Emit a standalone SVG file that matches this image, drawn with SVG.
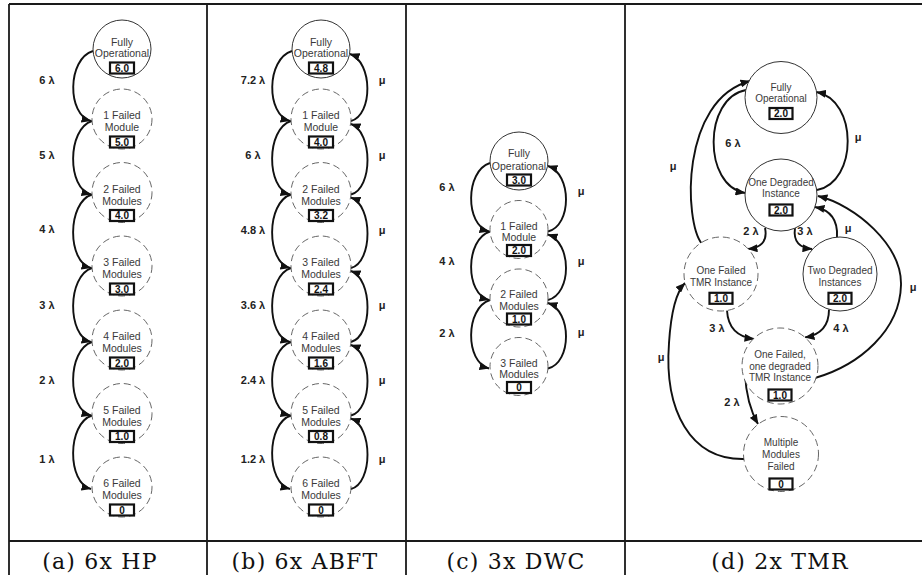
<svg xmlns="http://www.w3.org/2000/svg" width="922" height="575" viewBox="0 0 922 575">
<defs>
<marker id="ah" markerUnits="userSpaceOnUse" markerWidth="10" markerHeight="8" refX="9.5" refY="4" orient="auto">
<path d="M0,0 L10,4 L0,8 z" fill="#111"/>
</marker>
<style>
.frame{stroke:#1a1a1a;stroke-width:1.8;fill:none}
.sol{fill:#fff;stroke:#333;stroke-width:1}
.dash{fill:#fff;stroke:#555;stroke-width:0.9;stroke-dasharray:7 4}
.nt{font-family:"Liberation Sans",Arial,sans-serif;font-size:10.5px;fill:#3a3a3a;text-anchor:middle}
.nd{font-family:"Liberation Sans",Arial,sans-serif;font-size:10px;fill:#3a3a3a;text-anchor:middle}
.box{fill:#fff;stroke:#111;stroke-width:2.2}
.bt{font-family:"Liberation Sans",Arial,sans-serif;font-size:10px;font-weight:bold;fill:#111;text-anchor:middle}
.el{font-family:"Liberation Sans",Arial,sans-serif;font-size:11px;font-weight:bold;fill:#222;text-anchor:middle}
.cap{font-family:"DejaVu Serif","Liberation Serif",serif;font-size:22px;fill:#111;text-anchor:middle;letter-spacing:1.2px}
.ed{fill:none;stroke:#111;stroke-width:1.9;marker-end:url(#ah)}
</style>
</defs>
<rect width="922" height="575" fill="#fff"/>
<g id="frame">
<path class="frame" d="M9,4 H922 M9,4 V575 M207,4 V575 M406,4 V575 M625,4 V575 M9,541 H922"/>
</g>

<g id="connectors">
<path class="ed" d="M93,51 C67,59 67,115 91,121"/>
<path class="ed" d="M92,121 C67,129 67,188.5 91,194.5"/>
<path class="ed" d="M92,194.5 C67,202.5 67,262 91,268"/>
<path class="ed" d="M92,268 C67,276 67,336 91,342"/>
<path class="ed" d="M92,342 C67,350 67,409.5 91,415.5"/>
<path class="ed" d="M92,415.5 C67,423.5 67,483 91,489"/>
<path class="ed" d="M292,51 C266,59 266,115 290,121"/>
<path class="ed" d="M291,121 C266,129 266,188.5 290,194.5"/>
<path class="ed" d="M291,194.5 C266,202.5 266,262 290,268"/>
<path class="ed" d="M291,268 C266,276 266,336 290,342"/>
<path class="ed" d="M291,342 C266,350 266,409.5 290,415.5"/>
<path class="ed" d="M291,415.5 C266,423.5 266,483 290,489"/>
<path class="ed" d="M351,121 C373,115 373,62 350,54"/>
<path class="ed" d="M351,194.5 C373,188.5 373,132 351,124"/>
<path class="ed" d="M351,268 C373,262 373,205.5 351,197.5"/>
<path class="ed" d="M351,342 C373,336 373,279 351,271"/>
<path class="ed" d="M351,415.5 C373,409.5 373,353 351,345"/>
<path class="ed" d="M351,489 C373,483 373,426.5 351,418.5"/>
<path class="ed" d="M490,163 C465,171 465,225.5 489,231.5"/>
<path class="ed" d="M490,231.5 C465,239.5 465,294 489,300"/>
<path class="ed" d="M490,300 C465,308 465,362.5 489,368.5"/>
<path class="ed" d="M548,231.5 C572,225.5 572,174 548,166"/>
<path class="ed" d="M548,300 C572,294 572,242.5 548,234.5"/>
<path class="ed" d="M548,368.5 C572,362.5 572,311 548,303"/>
<path class="ed" d="M746,90 C703,98 703,186 745,193"/>
<path class="ed" d="M817,190 C858,182 858,100 816.5,92"/>
<path class="ed" d="M702,244 C684,222 680,100 750,81"/>
<path class="ed" d="M765,228 C768,242 760,248 748,249"/>
<path class="ed" d="M795,228 C793,242 800,248 812,249"/>
<path class="ed" d="M837,237 C838,220 830,210 815,207"/>
<path class="ed" d="M727,310.5 C728,328 738,337 754,339"/>
<path class="ed" d="M829,309.5 C829,326 820,335 805,337.5"/>
<path class="ed" d="M815,378 C860,365 900,330 901,285 C902,245 855,205 818,196"/>
<path class="ed" d="M745,374 C746,395 750,410 758,424"/>
<path class="ed" d="M744,459 C690,460 664,410 669,343 C671,312 676,292 685,283"/>
</g>

<g id="edge-labels">
<text class="el" x="47" y="84">6 λ</text>
<text class="el" x="47" y="159">5 λ</text>
<text class="el" x="47" y="233">4 λ</text>
<text class="el" x="47" y="309">3 λ</text>
<text class="el" x="47" y="384">2 λ</text>
<text class="el" x="47" y="463">1 λ</text>
<text class="el" x="253" y="84">7.2 λ</text>
<text class="el" x="253" y="159">6 λ</text>
<text class="el" x="253" y="234">4.8 λ</text>
<text class="el" x="253" y="309">3.6 λ</text>
<text class="el" x="253" y="384">2.4 λ</text>
<text class="el" x="253" y="463">1.2 λ</text>
<text class="el" x="382" y="84">μ</text>
<text class="el" x="382" y="159">μ</text>
<text class="el" x="382" y="234">μ</text>
<text class="el" x="382" y="309">μ</text>
<text class="el" x="382" y="384">μ</text>
<text class="el" x="382" y="463">μ</text>
<text class="el" x="447" y="191">6 λ</text>
<text class="el" x="447" y="265">4 λ</text>
<text class="el" x="447" y="337">2 λ</text>
<text class="el" x="581" y="195">μ</text>
<text class="el" x="581" y="265">μ</text>
<text class="el" x="581" y="336">μ</text>
<text class="el" x="733" y="147">6 λ</text>
<text class="el" x="858" y="141">μ</text>
<text class="el" x="673" y="170">μ</text>
<text class="el" x="751" y="235">2 λ</text>
<text class="el" x="805" y="235">3 λ</text>
<text class="el" x="848" y="232">μ</text>
<text class="el" x="717" y="332">3 λ</text>
<text class="el" x="841" y="332">4 λ</text>
<text class="el" x="913" y="291">μ</text>
<text class="el" x="732" y="406">2 λ</text>
<text class="el" x="661" y="361">μ</text>
</g>

<g id="a-fully"><circle class="sol" cx="122" cy="49" r="29"/><text class="nt" x="122" y="45.5">Fully</text><text class="nt" x="122" y="56.5">Operational</text><rect class="box" x="110" y="62.5" width="24" height="11"/><text class="bt" x="122" y="71.5">6.0</text></g>
<g id="a-f1"><circle class="dash" cx="122" cy="119" r="30"/><text class="nt" x="122" y="119">1 Failed</text><text class="nt" x="122" y="131">Module</text><rect class="box" x="110" y="136.5" width="24" height="11"/><text class="bt" x="122" y="145.5">5.0</text></g>
<g id="a-f2"><circle class="dash" cx="122" cy="192.5" r="30"/><text class="nt" x="122" y="192.5">2 Failed</text><text class="nt" x="122" y="204.5">Modules</text><rect class="box" x="110" y="210" width="24" height="11"/><text class="bt" x="122" y="219">4.0</text></g>
<g id="a-f3"><circle class="dash" cx="122" cy="266" r="30"/><text class="nt" x="122" y="266">3 Failed</text><text class="nt" x="122" y="278">Modules</text><rect class="box" x="110" y="283.5" width="24" height="11"/><text class="bt" x="122" y="292.5">3.0</text></g>
<g id="a-f4"><circle class="dash" cx="122" cy="340" r="30"/><text class="nt" x="122" y="340">4 Failed</text><text class="nt" x="122" y="352">Modules</text><rect class="box" x="110" y="357.5" width="24" height="11"/><text class="bt" x="122" y="366.5">2.0</text></g>
<g id="a-f5"><circle class="dash" cx="122" cy="413.5" r="30"/><text class="nt" x="122" y="413.5">5 Failed</text><text class="nt" x="122" y="425.5">Modules</text><rect class="box" x="110" y="431" width="24" height="11"/><text class="bt" x="122" y="440">1.0</text></g>
<g id="a-f6"><circle class="dash" cx="122" cy="487" r="30"/><text class="nt" x="122" y="487">6 Failed</text><text class="nt" x="122" y="499">Modules</text><rect class="box" x="110" y="504.5" width="24" height="11"/><text class="bt" x="122" y="513.5">0</text></g>

<g id="b-fully"><circle class="sol" cx="321" cy="49" r="29"/><text class="nt" x="321" y="45.5">Fully</text><text class="nt" x="321" y="56.5">Operational</text><rect class="box" x="309" y="62.5" width="24" height="11"/><text class="bt" x="321" y="71.5">4.8</text></g>
<g id="b-f1"><circle class="dash" cx="321" cy="119" r="30"/><text class="nt" x="321" y="119">1 Failed</text><text class="nt" x="321" y="131">Module</text><rect class="box" x="309" y="136.5" width="24" height="11"/><text class="bt" x="321" y="145.5">4.0</text></g>
<g id="b-f2"><circle class="dash" cx="321" cy="192.5" r="30"/><text class="nt" x="321" y="192.5">2 Failed</text><text class="nt" x="321" y="204.5">Modules</text><rect class="box" x="309" y="210" width="24" height="11"/><text class="bt" x="321" y="219">3.2</text></g>
<g id="b-f3"><circle class="dash" cx="321" cy="266" r="30"/><text class="nt" x="321" y="266">3 Failed</text><text class="nt" x="321" y="278">Modules</text><rect class="box" x="309" y="283.5" width="24" height="11"/><text class="bt" x="321" y="292.5">2.4</text></g>
<g id="b-f4"><circle class="dash" cx="321" cy="340" r="30"/><text class="nt" x="321" y="340">4 Failed</text><text class="nt" x="321" y="352">Modules</text><rect class="box" x="309" y="357.5" width="24" height="11"/><text class="bt" x="321" y="366.5">1.6</text></g>
<g id="b-f5"><circle class="dash" cx="321" cy="413.5" r="30"/><text class="nt" x="321" y="413.5">5 Failed</text><text class="nt" x="321" y="425.5">Modules</text><rect class="box" x="309" y="431" width="24" height="11"/><text class="bt" x="321" y="440">0.8</text></g>
<g id="b-f6"><circle class="dash" cx="321" cy="487" r="30"/><text class="nt" x="321" y="487">6 Failed</text><text class="nt" x="321" y="499">Modules</text><rect class="box" x="309" y="504.5" width="24" height="11"/><text class="bt" x="321" y="513.5">0</text></g>

<g id="c-fully"><circle class="sol" cx="519" cy="161" r="29"/><text class="nt" x="519" y="156.7">Fully</text><text class="nt" x="519" y="170">Operational</text><rect class="box" x="507" y="174.5" width="24" height="11"/><text class="bt" x="519" y="183.6">3.0</text></g>
<g id="c-f1"><circle class="dash" cx="519" cy="229.5" r="29"/><text class="nt" x="519" y="229.5">1 Failed</text><text class="nt" x="519" y="241">Module</text><rect class="box" x="507" y="245" width="24" height="11"/><text class="bt" x="519" y="254">2.0</text></g>
<g id="c-f2"><circle class="dash" cx="519" cy="298" r="29"/><text class="nt" x="519" y="298">2 Failed</text><text class="nt" x="519" y="309.5">Modules</text><rect class="box" x="507" y="313.5" width="24" height="11"/><text class="bt" x="519" y="322.5">1.0</text></g>
<g id="c-f3"><circle class="dash" cx="519" cy="366.5" r="29"/><text class="nt" x="519" y="366.5">3 Failed</text><text class="nt" x="519" y="378">Modules</text><rect class="box" x="507" y="382" width="24" height="11"/><text class="bt" x="519" y="391">0</text></g>

<g id="d-fully"><circle class="sol" cx="781" cy="97.5" r="36"/><text class="nd" x="781" y="90.8">Fully</text><text class="nd" x="781" y="101.5">Operational</text><rect class="box" x="769.5" y="108" width="23" height="11"/><text class="bt" x="781" y="117">2.0</text></g>
<g id="d-onedeg"><circle class="sol" cx="781" cy="195" r="36"/><text class="nd" x="781" y="186.2">One Degraded</text><text class="nd" x="781" y="197">Instance</text><rect class="box" x="769.5" y="204.5" width="23" height="11"/><text class="bt" x="781" y="213.6">2.0</text></g>
<g id="d-onefail"><circle class="dash" cx="721" cy="274" r="37"/><text class="nd" x="721" y="274.2">One Failed</text><text class="nd" x="721" y="286.2">TMR Instance</text><rect class="box" x="709.5" y="292.8" width="23" height="11"/><text class="bt" x="721" y="301.9">1.0</text></g>
<g id="d-twodeg"><circle class="sol" cx="840" cy="274" r="37"/><text class="nd" x="840" y="274.2">Two Degraded</text><text class="nd" x="840" y="286.2">Instances</text><rect class="box" x="828.5" y="292.8" width="23" height="11"/><text class="bt" x="840" y="301.9">2.0</text></g>
<g id="d-failone"><circle class="dash" cx="780" cy="366" r="38"/><text class="nd" x="780" y="357.5">One Failed,</text><text class="nd" x="780" y="369.5">one degraded</text><text class="nd" x="780" y="380.8">TMR Instance</text><rect class="box" x="768.5" y="389.5" width="23" height="11"/><text class="bt" x="780" y="398.6">1.0</text></g>
<g id="d-multi"><circle class="dash" cx="781" cy="454" r="37.5"/><text class="nd" x="781" y="446.2">Multiple</text><text class="nd" x="781" y="457.8">Modules</text><text class="nd" x="781" y="469.5">Failed</text><rect class="box" x="769.5" y="478.5" width="23" height="11"/><text class="bt" x="781" y="487.6">0</text></g>

<g id="captions">
<text class="cap" x="100" y="569">(a) 6x HP</text>
<text class="cap" x="305" y="569">(b) 6x ABFT</text>
<text class="cap" x="516" y="569">(c) 3x DWC</text>
<text class="cap" x="780" y="569">(d) 2x TMR</text>
</g>
</svg>
